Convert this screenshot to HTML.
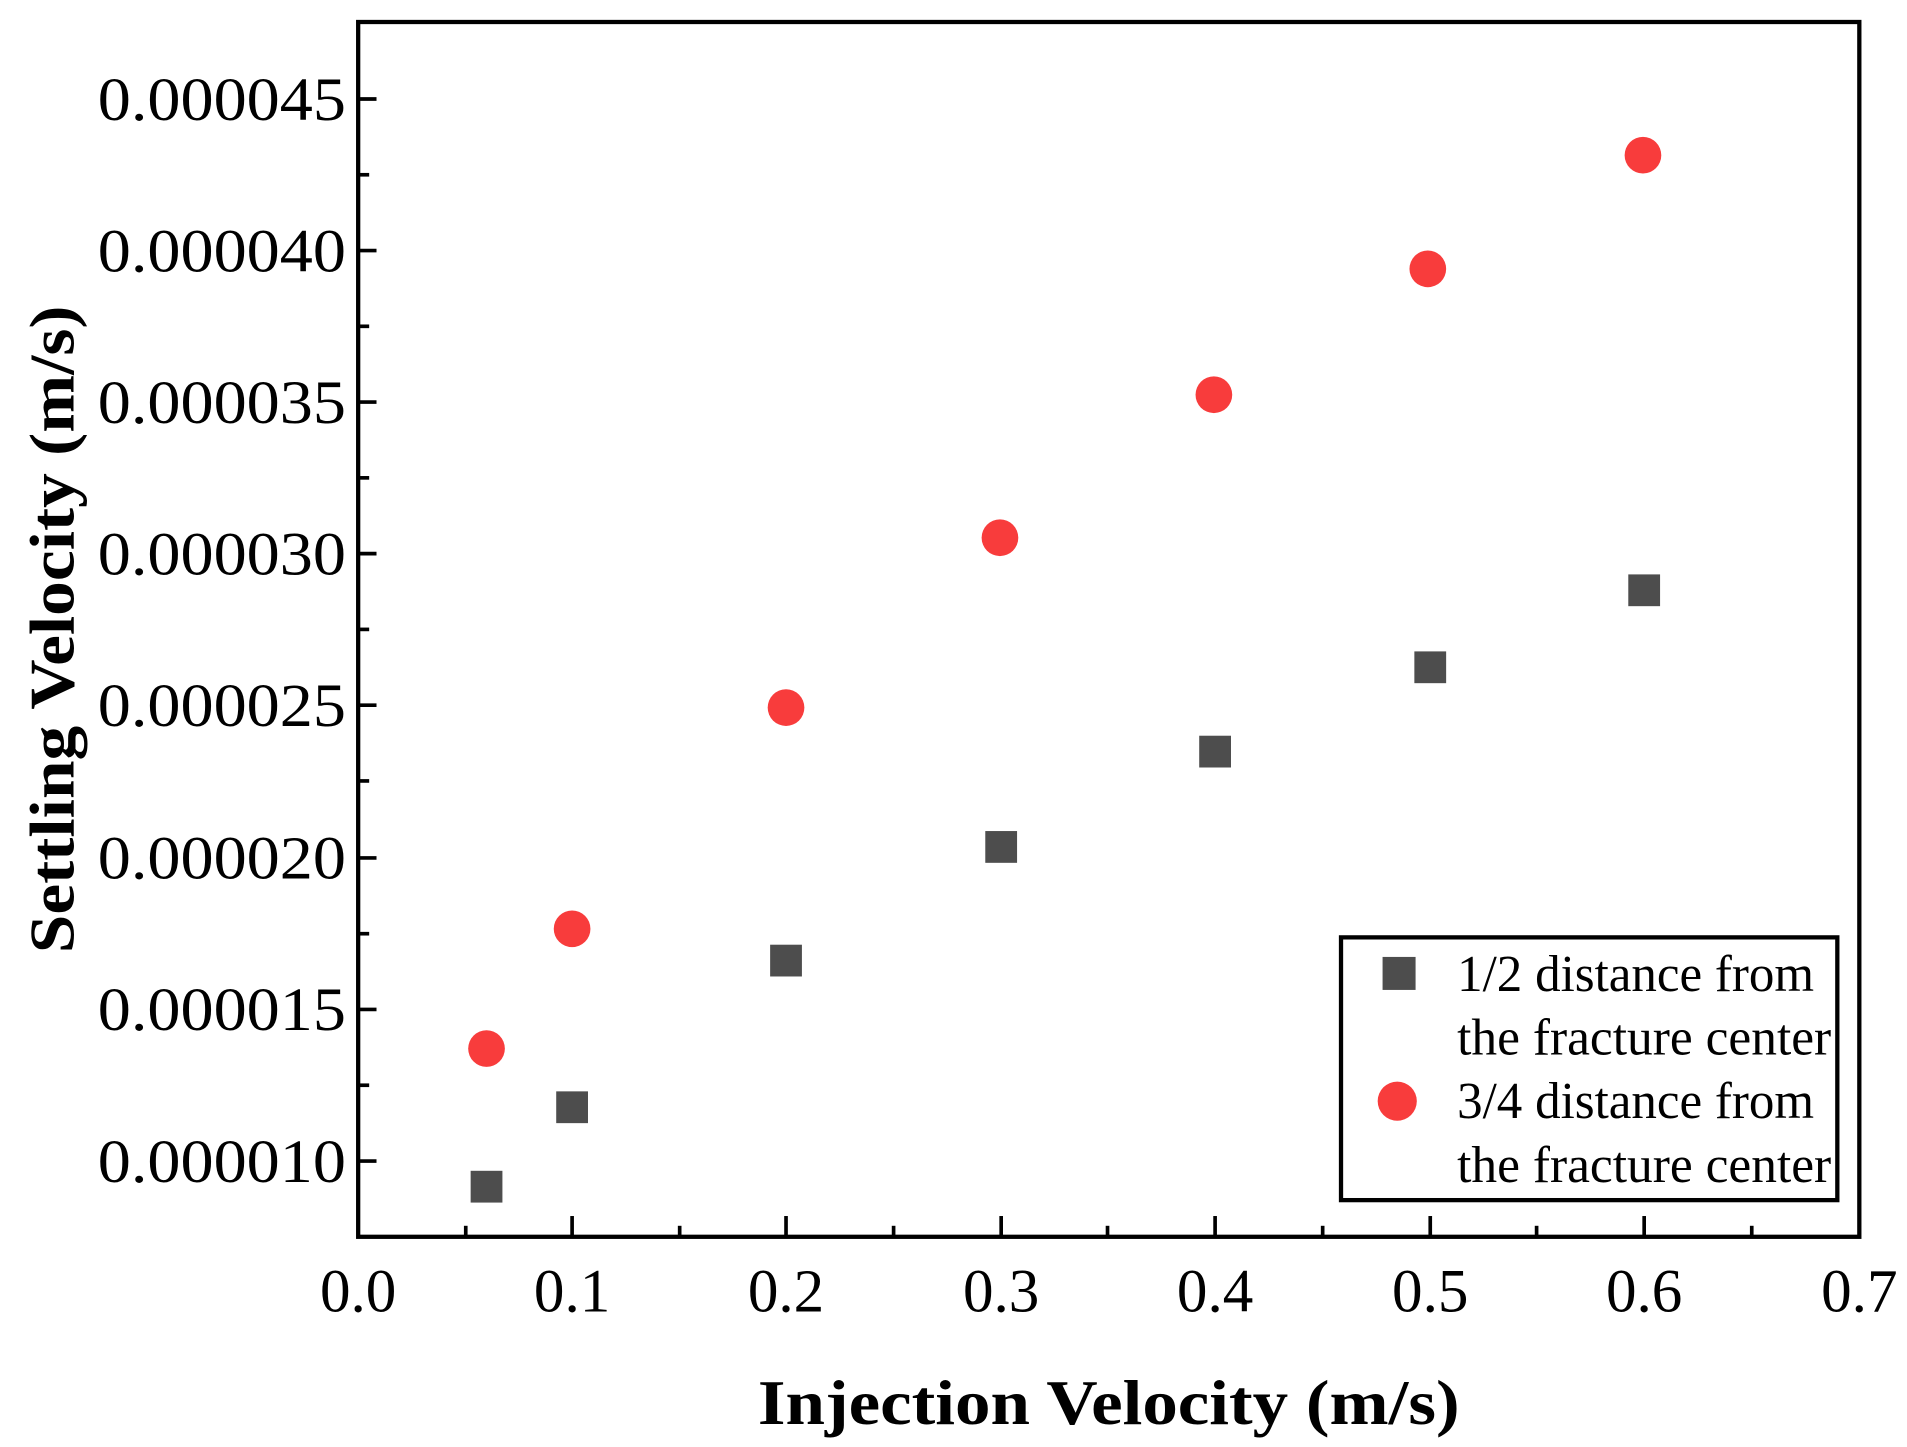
<!DOCTYPE html>
<html><head><meta charset="utf-8"><style>html,body{margin:0;padding:0;background:#fff}svg{display:block}</style></head>
<body>
<svg width="1907" height="1447" viewBox="0 0 1560 1184" preserveAspectRatio="none" xmlns="http://www.w3.org/2000/svg" font-family="'Liberation Serif', serif">
<rect x="0" y="0" width="1560" height="1184" fill="#fff"/>
<rect x="293" y="18" width="1228" height="994" fill="none" stroke="#000" stroke-width="3.5"/>
<g stroke="#000" stroke-width="3">
<line x1="293" y1="81" x2="308" y2="81"/><line x1="293" y1="205" x2="308" y2="205"/>
<line x1="293" y1="329" x2="308" y2="329"/><line x1="293" y1="453" x2="308" y2="453"/>
<line x1="293" y1="577" x2="308" y2="577"/><line x1="293" y1="702" x2="308" y2="702"/>
<line x1="293" y1="826" x2="308" y2="826"/><line x1="293" y1="950" x2="308" y2="950"/>
<line x1="293" y1="143" x2="302" y2="143"/><line x1="293" y1="267" x2="302" y2="267"/>
<line x1="293" y1="391" x2="302" y2="391"/><line x1="293" y1="515" x2="302" y2="515"/>
<line x1="293" y1="639" x2="302" y2="639"/><line x1="293" y1="764" x2="302" y2="764"/>
<line x1="293" y1="888" x2="302" y2="888"/>
<line x1="468" y1="1012" x2="468" y2="995"/><line x1="643" y1="1012" x2="643" y2="995"/>
<line x1="819" y1="1012" x2="819" y2="995"/><line x1="994" y1="1012" x2="994" y2="995"/>
<line x1="1170" y1="1012" x2="1170" y2="995"/><line x1="1345" y1="1012" x2="1345" y2="995"/>
<line x1="381" y1="1012" x2="381" y2="1003"/><line x1="556" y1="1012" x2="556" y2="1003"/>
<line x1="731" y1="1012" x2="731" y2="1003"/><line x1="906" y1="1012" x2="906" y2="1003"/>
<line x1="1082" y1="1012" x2="1082" y2="1003"/><line x1="1257" y1="1012" x2="1257" y2="1003"/>
<line x1="1433" y1="1012" x2="1433" y2="1003"/>
</g>
<g font-size="50" text-anchor="end" fill="#000">
<text x="283" y="98" textLength="203" lengthAdjust="spacingAndGlyphs">0.000045</text>
<text x="283" y="222" textLength="203" lengthAdjust="spacingAndGlyphs">0.000040</text>
<text x="283" y="346" textLength="203" lengthAdjust="spacingAndGlyphs">0.000035</text>
<text x="283" y="470" textLength="203" lengthAdjust="spacingAndGlyphs">0.000030</text>
<text x="283" y="594" textLength="203" lengthAdjust="spacingAndGlyphs">0.000025</text>
<text x="283" y="719" textLength="203" lengthAdjust="spacingAndGlyphs">0.000020</text>
<text x="283" y="843" textLength="203" lengthAdjust="spacingAndGlyphs">0.000015</text>
<text x="283" y="967" textLength="203" lengthAdjust="spacingAndGlyphs">0.000010</text>
</g>
<g font-size="50" text-anchor="middle" fill="#000">
<text x="293" y="1073">0.0</text><text x="468" y="1073">0.1</text><text x="643" y="1073">0.2</text>
<text x="819" y="1073">0.3</text><text x="994" y="1073">0.4</text><text x="1170" y="1073">0.5</text>
<text x="1345" y="1073">0.6</text><text x="1521" y="1073">0.7</text>
</g>
<text x="907" y="1165" font-size="52" font-weight="bold" text-anchor="middle" textLength="574" lengthAdjust="spacingAndGlyphs">Injection Velocity  (m/s)</text>
<text transform="translate(60,515) rotate(-90)" font-size="52" font-weight="bold" text-anchor="middle" textLength="530" lengthAdjust="spacingAndGlyphs">Settling Velocity (m/s)</text>
<g fill="#4d4d4d">
<rect x="385" y="958" width="26" height="26"/><rect x="455" y="893" width="26" height="26"/>
<rect x="630" y="773" width="26" height="26"/><rect x="806" y="680" width="26" height="26"/>
<rect x="981" y="602" width="26" height="26"/><rect x="1157" y="533" width="26" height="26"/>
<rect x="1332" y="470" width="26" height="26"/>
</g>
<g fill="#f83c3c">
<circle cx="398" cy="858" r="15"/><circle cx="468" cy="760" r="15"/><circle cx="643" cy="579" r="15"/>
<circle cx="818" cy="440" r="15"/><circle cx="993" cy="323" r="15"/><circle cx="1168" cy="220" r="15"/>
<circle cx="1344" cy="127" r="15"/>
</g>
<rect x="1097" y="767" width="406" height="215" fill="#fff" stroke="#000" stroke-width="3.5"/>
<rect x="1131" y="783" width="27" height="27" fill="#4d4d4d"/>
<circle cx="1143" cy="901" r="16" fill="#f83c3c"/>
<g font-size="42" fill="#000">
<text x="1192" y="811" textLength="292" lengthAdjust="spacingAndGlyphs">1/2 distance from</text>
<text x="1192" y="863" textLength="306" lengthAdjust="spacingAndGlyphs">the fracture center</text>
<text x="1192" y="915" textLength="292" lengthAdjust="spacingAndGlyphs">3/4 distance from</text>
<text x="1192" y="967" textLength="306" lengthAdjust="spacingAndGlyphs">the fracture center</text>
</g>
</svg>
</body></html>
